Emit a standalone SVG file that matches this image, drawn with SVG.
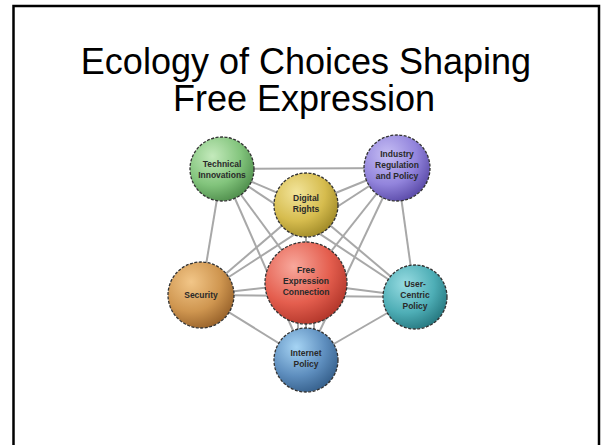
<svg xmlns="http://www.w3.org/2000/svg" width="602" height="445" viewBox="0 0 602 445">
<style>
.title{font-family:"Liberation Sans",Arial,sans-serif;font-size:36px;fill:#000;text-anchor:middle}
.lbl{font-family:"Liberation Sans",Arial,sans-serif;font-size:8.5px;font-weight:bold;fill:#2a2a2a;text-anchor:middle}
.node circle{stroke:#333;stroke-width:1.3;stroke-dasharray:3 1.5}
.edges line{stroke:#a8a8a8;stroke-width:2}
</style>
<defs>
<radialGradient id="gGreen" cx="35%" cy="30%" r="75%"><stop offset="0" stop-color="#c4eabc"/><stop offset="0.6" stop-color="#82c47c"/><stop offset="1" stop-color="#4f8e4c"/></radialGradient>
<radialGradient id="gPurple" cx="35%" cy="30%" r="75%"><stop offset="0" stop-color="#c6bef4"/><stop offset="0.6" stop-color="#9284dc"/><stop offset="1" stop-color="#5a4aa8"/></radialGradient>
<radialGradient id="gYellow" cx="35%" cy="30%" r="75%"><stop offset="0" stop-color="#f2e49a"/><stop offset="0.6" stop-color="#d6bc4e"/><stop offset="1" stop-color="#a08a28"/></radialGradient>
<radialGradient id="gRed" cx="35%" cy="30%" r="75%"><stop offset="0" stop-color="#f8a89c"/><stop offset="0.6" stop-color="#e45e4e"/><stop offset="1" stop-color="#b2362a"/></radialGradient>
<radialGradient id="gOrange" cx="35%" cy="30%" r="75%"><stop offset="0" stop-color="#f2c688"/><stop offset="0.6" stop-color="#cf9650"/><stop offset="1" stop-color="#98622a"/></radialGradient>
<radialGradient id="gTeal" cx="35%" cy="30%" r="75%"><stop offset="0" stop-color="#98dce2"/><stop offset="0.6" stop-color="#4eaeb6"/><stop offset="1" stop-color="#267880"/></radialGradient>
<radialGradient id="gBlue" cx="35%" cy="30%" r="75%"><stop offset="0" stop-color="#a6d4f4"/><stop offset="0.6" stop-color="#5e8ebe"/><stop offset="1" stop-color="#36608c"/></radialGradient>
</defs>
<rect x="0" y="0" width="602" height="445" fill="#fff"/>
<rect x="13.5" y="6" width="585.5" height="460" fill="none" stroke="#000" stroke-width="2.5"/>
<text class="title" x="306" y="74">Ecology of Choices Shaping</text>
<text class="title" x="304" y="111">Free Expression</text>
<g class="edges">
<line x1="222" y1="169" x2="397" y2="168"/>
<line x1="222" y1="169" x2="306" y2="205"/>
<line x1="222" y1="169" x2="306" y2="283"/>
<line x1="222" y1="169" x2="201" y2="295"/>
<line x1="222" y1="169" x2="415" y2="297"/>
<line x1="222" y1="169" x2="306" y2="360"/>
<line x1="397" y1="168" x2="306" y2="205"/>
<line x1="397" y1="168" x2="306" y2="283"/>
<line x1="397" y1="168" x2="201" y2="295"/>
<line x1="397" y1="168" x2="415" y2="297"/>
<line x1="397" y1="168" x2="306" y2="360"/>
<line x1="306" y1="205" x2="201" y2="295"/>
<line x1="306" y1="205" x2="415" y2="297"/>
<line x1="306" y1="205" x2="306" y2="360"/>
<line x1="201" y1="295" x2="306" y2="283"/>
<line x1="201" y1="295" x2="415" y2="297"/>
<line x1="201" y1="295" x2="306" y2="360"/>
<line x1="415" y1="297" x2="306" y2="283"/>
<line x1="415" y1="297" x2="306" y2="360"/>
<line x1="298" y1="283" x2="298" y2="360"/>
<line x1="314" y1="283" x2="314" y2="360"/>
</g>
<g id="technical" class="node"><circle cx="222" cy="169" r="32" fill="url(#gGreen)"/><text class="lbl" x="222" y="167">Technical</text><text class="lbl" x="222" y="178">Innovations</text></g>
<g id="industry" class="node"><circle cx="397" cy="168" r="33" fill="url(#gPurple)"/><text class="lbl" x="397" y="157">Industry</text><text class="lbl" x="397" y="168">Regulation</text><text class="lbl" x="397" y="179">and Policy</text></g>
<g id="digital" class="node"><circle cx="306" cy="205" r="32" fill="url(#gYellow)"/><text class="lbl" x="306" y="201">Digital</text><text class="lbl" x="306" y="212">Rights</text></g>
<g id="free" class="node"><circle cx="306" cy="283" r="41" fill="url(#gRed)"/><text class="lbl" x="306" y="273">Free</text><text class="lbl" x="306" y="284">Expression</text><text class="lbl" x="306" y="295">Connection</text></g>
<g id="security" class="node"><circle cx="201" cy="295" r="33" fill="url(#gOrange)"/><text class="lbl" x="201" y="298">Security</text></g>
<g id="usercentric" class="node"><circle cx="415" cy="297" r="32" fill="url(#gTeal)"/><text class="lbl" x="415" y="287">User-</text><text class="lbl" x="415" y="298">Centric</text><text class="lbl" x="415" y="309">Policy</text></g>
<g id="internet" class="node"><circle cx="306" cy="360" r="32" fill="url(#gBlue)"/><text class="lbl" x="306" y="356">Internet</text><text class="lbl" x="306" y="367">Policy</text></g>
</svg>
